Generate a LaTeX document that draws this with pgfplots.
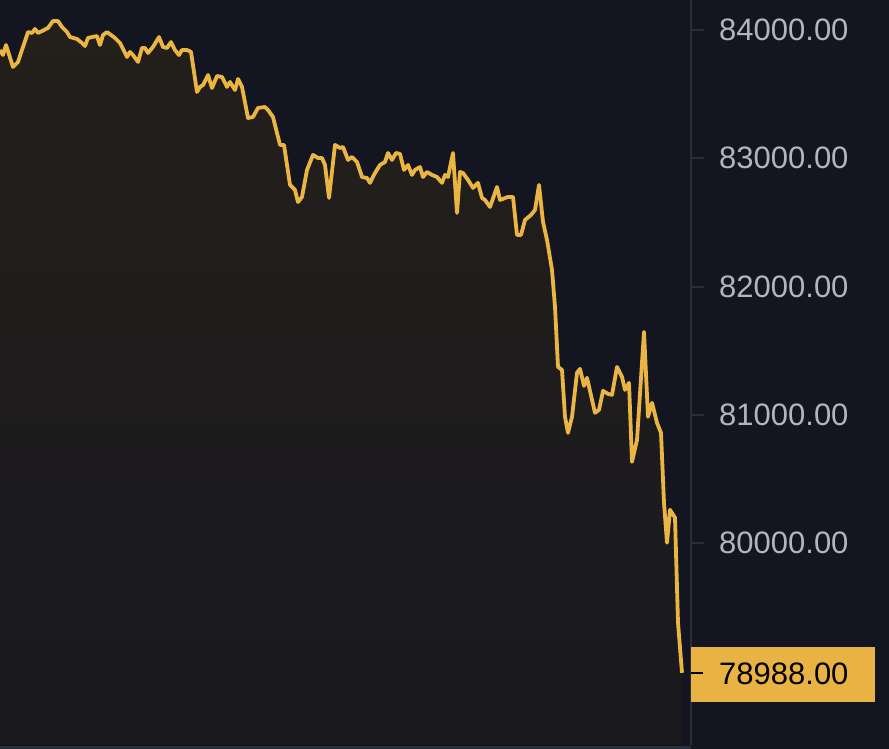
\documentclass[border=0pt]{standalone}
\usepackage{pgfplots}
\pgfplotsset{compat=1.18}
\usepackage{pgfplotstable}
\usepackage{fontspec}
\setmainfont{Liberation Sans}
\definecolor{bg}{HTML}{131620}
\definecolor{fillTop}{HTML}{231F1B}
\definecolor{fillBot}{HTML}{19191E}
\definecolor{linec}{HTML}{EBB543}
\definecolor{boxc}{HTML}{E9B344}
\definecolor{axisc}{HTML}{2A2E39}
\definecolor{lblc}{HTML}{B0B5BF}

\pgfplotstableread{
x y
0 83844
3 83805
6 83883
13 83712
18 83751
28 83984
32 83977
35 84008
38 83977
42 83992
48 84016
53 84070
58 84070
62 84023
67 83984
70 83945
77 83930
82 83899
85 83875
88 83938
97 83953
100 83883
103 83961
107 83984
115 83938
120 83899
127 83790
130 83829
133 83805
138 83751
142 83860
145 83860
148 83821
153 83868
159 83945
163 83868
167 83860
171 83906
175 83844
179 83805
182 83844
187 83844
191 83829
197 83517
200 83556
203 83571
208 83649
212 83548
217 83641
222 83634
227 83556
230 83595
235 83532
238 83618
242 83556
248 83314
253 83322
258 83392
265 83400
268 83376
273 83322
280 83104
284 83104
290 82792
295 82753
298 82659
302 82698
307 82909
313 83026
318 83002
322 83002
325 82948
329 82691
335 83104
340 83080
343 83088
348 82987
352 83010
357 82971
362 82854
367 82846
370 82808
375 82885
380 82948
385 82971
388 83041
392 82987
396 83041
400 83034
404 82909
408 82948
412 82870
415 82909
420 82932
423 82854
427 82893
432 82870
437 82854
442 82808
445 82870
448 82854
453 83041
457 82574
460 82893
463 82885
468 82831
473 82769
478 82808
482 82691
485 82675
490 82620
497 82776
500 82675
508 82698
513 82698
517 82402
521 82402
525 82519
531 82558
535 82597
539 82792
543 82504
547 82363
552 82129
555 81841
558 81373
562 81350
565 80984
568 80859
572 80984
577 81327
580 81358
584 81225
587 81288
595 81015
599 81038
603 81186
608 81163
612 81155
617 81373
622 81295
625 81194
629 81249
632 80633
637 80804
644 81646
648 80984
652 81093
657 80937
661 80859
664 80313
667 80002
670 80259
675 80197
678 79378
682 78988
}\pricedata

\begin{document}
\begin{tikzpicture}
\fill[bg] (0,0) rectangle (889pt,749pt);
\fill[axisc] (0,0) rectangle (691pt,3pt);
\begin{axis}[
  at={(0,4pt)}, anchor=south west,
  scale only axis, width=691pt, height=745pt,
  xmin=0, xmax=691, ymin=78425, ymax=84234,
  axis line style={draw=none},
  xtick=\empty,
  scaled y ticks=false,
  ytick={80000,81000,82000,83000,84000},
  yticklabels={80000.00,81000.00,82000.00,83000.00,84000.00},
  ytick pos=right, yticklabel pos=right,
  tick align=outside,
  major tick length=13pt,
  ytick style={draw=axisc, line width=2pt},
  yticklabel style={font=\fontsize{31}{31}\selectfont, text=lblc, anchor=west, inner sep=0pt, xshift=15pt},
  clip=true,
]
\addplot[draw=none, top color=fillTop, bottom color=fillBot] table {\pricedata} -- (axis cs:682,78425) -- (axis cs:0,78425) -- cycle;
\addplot[linec, line width=3.8pt, line join=round, mark=none] table {\pricedata};
\coordinate (last) at (axis cs:691,78988);
\coordinate (axtop) at (axis cs:691,84234);
\coordinate (axbot) at (axis cs:691,78425);
\end{axis}
\draw[axisc, line width=2pt] (axbot) -- (axtop);
\node[fill=boxc, anchor=west, minimum width=184pt, minimum height=55pt, inner sep=0pt] at ([yshift=-1.5pt]last) {};
\draw[black, line width=2.5pt] (last) -- ++(12pt,0);
\node[anchor=west, inner sep=0pt, text=black, font=\fontsize{31}{31}\selectfont] at ([xshift=28pt,yshift=-1.5pt]last) {78988.00};
\pgfresetboundingbox
\useasboundingbox (0,0) rectangle (889pt,749pt);
\end{tikzpicture}
\end{document}
